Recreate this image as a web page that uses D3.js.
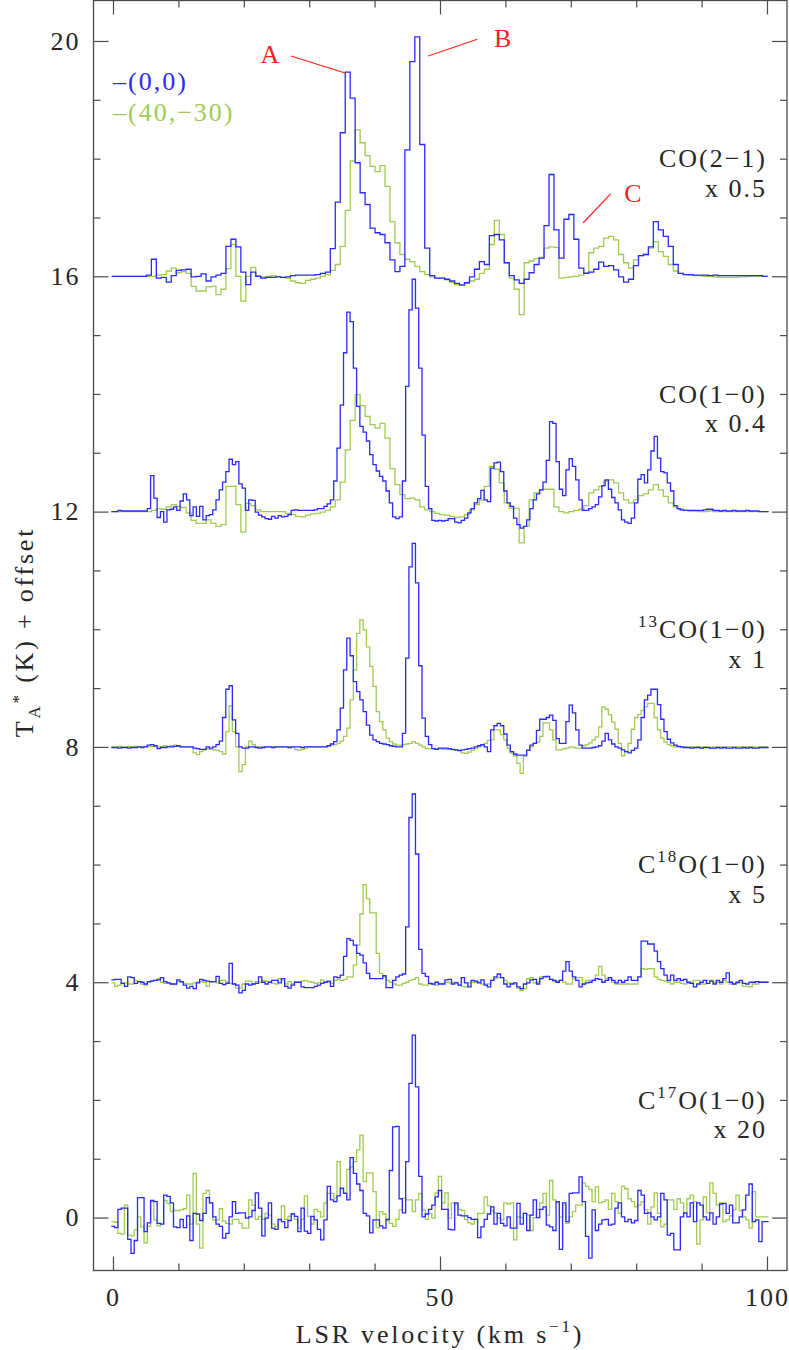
<!DOCTYPE html>
<html>
<head>
<meta charset="utf-8">
<script src="https://cdn.jsdelivr.net/npm/d3@7"></script>
<style>
  body { margin: 0; background: #fff; }
  svg text { font-family: "Liberation Serif", "DejaVu Serif", serif; }
</style>
</head>
<body>
<div id="chart"></div>
<script>
// channel grids (km/s): centre of first channel and channel width
var fineStart = 0, fineStep = 0.5;          // CO(1-0) (0,0), 13CO, C18O, C17O
var coarseStart = 0.17, coarseStep = 0.76;  // CO(2-1), CO(1-0) (40,-30)

// vertical offsets of the five lines, top to bottom
var offsets = [16, 12, 8, 4, 0];
var scaleFactors = ["0.5", "0.4", "1", "5", "20"];
var positions = ["(0,0)", "(40,\u221230)"];

// tick values
var xMajor = [0, 50, 100];
var xMinor = [10, 20, 30, 40, 60, 70, 80, 90];
var yMajor = [0, 4, 8, 12, 16, 20];
var yMinor = [1, 2, 3, 5, 6, 7, 9, 10, 11, 13, 14, 15, 17, 18, 19];

// ---- spectra, T (scaled) relative to offset ----
// CO(2-1)
var co21_00 = [
  0,0,0,0,0,0,0,0.02,0.29,-0.03,
  -0.02,-0.10,0.01,0.10,0.11,0.12,-0.01,0,0.04,-0.08,
  -0.01,0.02,0.05,0.51,0.63,0.50,0.07,-0.14,0.07,0,
  -0.03,-0.02,-0.02,-0.01,-0.02,-0.01,0.01,0.02,0.02,0.02,
  0.02,0.03,0.05,0.07,0.47,1.26,2.44,3.47,3.03,1.93,
  1.42,1.22,0.82,0.74,0.71,0.57,0.28,0.08,0.17,2.15,
  3.65,4.07,2.24,0.48,0.01,-0.03,
  -0.03,-0.05,-0.08,-0.12,-0.15,-0.11,-0.01,0.12,0.25,0.20,
  0.69,0.71,0.62,0.23,0.01,-0.06,-0.12,-0.05,0.06,0.20,
  0.31,0.86,1.73,0.79,0.31,0.97,1.05,0.63,0.14,0.05,
  0.07,0.12,0.24,0.17,0.18,0.11,-0.01,-0.10,-0.05,0.18,
  0.35,0.37,0.50,0.93,0.79,0.68,0.51,0.20,0.05,0.03,
  0.03,0.02,0.02,0.02,0.01,0.02,0.01,0.01,0.01,0.01,
  0.01,0.01,0.01,0.01,0.01,0
];
var co21_4030 = [
  0,0,0,0,0,0,0,0,0,0.02,
  0.03,0.09,0.14,0.06,0.08,0.05,-0.17,-0.25,-0.25,-0.18,
  -0.17,-0.31,-0.22,0.13,0.54,0.0,-0.42,0.0,0.15,0.01,
  -0.01,0,0.01,0,-0.02,-0.03,-0.08,-0.11,-0.12,-0.07,
  -0.05,-0.03,0,0.03,0.10,0.20,0.51,1.12,1.96,2.49,
  2.27,2.05,1.87,1.78,1.88,1.53,0.93,0.57,0.37,0.29,
  0.25,0.17,0.08,0.03,-0.01,-0.03,
  -0.03,-0.06,-0.10,-0.14,-0.14,-0.12,-0.08,-0.05,0.05,0.12,
  0.54,0.95,0.71,0.23,-0.03,-0.22,-0.65,0.23,0.26,0.30,
  0.32,0.48,0.50,0.49,-0.03,-0.02,-0.01,0,0.02,0.06,
  0.40,0.48,0.51,0.65,0.68,0.62,0.37,0.23,0.14,0.28,
  0.35,0.37,0.48,0.59,0.42,0.34,0.20,0.09,0.05,0.03,
  0.02,0.01,0.01,0,0,-0.01,-0.02,-0.02,-0.02,-0.02,
  -0.01,-0.01,0,0,0,0
];
// CO(1-0)
var co10_00 = [
  0,0,0.02,0.01,0.01,0.01,0.01,0.01,0.01,0.01,
  0.01,0.05,0.61,0.23,-0.10,0.0,-0.18,0.03,0.04,0.08,
  0.02,0.18,0.30,0.20,-0.07,0.08,-0.08,0.09,-0.14,-0.07,
  -0.05,0.03,0.20,0.37,0.50,0.68,0.89,0.80,0.85,0.47,
  0.40,0.02,0.20,0.19,-0.01,-0.06,-0.09,-0.12,-0.13,-0.08,
  -0.11,-0.07,-0.09,-0.08,-0.05,0.02,0.03,0.02,0.02,0.02,
  0.02,0.02,0.03,0.05,0.05,0.09,0.13,0.20,0.52,1.08,
  1.81,2.70,3.39,3.23,2.44,1.79,1.45,1.35,1.20,0.97,
  0.80,0.69,0.60,0.52,0.35,0.15,-0.09,-0.12,-0.09,0.52,
  2.13,3.43,3.95,3.46,2.44,1.30,0.43,0.05,-0.15,-0.16,
  -0.15,-0.16,-0.15,-0.12,-0.12,-0.18,-0.19,-0.15,-0.11,-0.02,
  0.05,0.15,0.22,0.36,0.20,0.17,0.74,0.83,0.84,0.68,
  0.35,0.15,0.09,-0.11,-0.22,-0.28,-0.25,-0.14,0.05,0.20,
  0.30,0.37,0.50,0.87,1.53,1.50,0.85,0.38,0.27,0.71,
  0.90,0.77,0.54,0.20,0.02,0.02,0.05,0.08,0.12,0.25,
  0.44,0.54,0.38,0.24,0.15,0.03,-0.14,-0.18,-0.20,-0.11,
  0.15,0.55,0.63,0.49,0.71,1.03,1.28,0.91,0.68,0.66,
  0.49,0.35,0.10,0.05,0.03,0.02,0.02,0.02,0.02,0.02,
  0.02,0.03,0.04,0.04,0.02,0.02,0.01,0.02,0.01,0.01,
  0.02,0.01,0.01,0.01,0.02,0.01,0.01,0.01,0,0,0
];
var co10_4030 = [
  0,0,0,0,0,0,0,0,0.02,0.05,
  0.04,0.08,0.12,0.09,0.07,-0.02,-0.15,-0.20,-0.20,-0.14,
  -0.20,-0.25,-0.22,0.43,0.43,0.12,-0.35,0.14,0.10,0.03,
  0,0,0,0,0,-0.03,-0.05,-0.08,-0.09,-0.06,
  -0.04,-0.03,-0.01,0.02,0.08,0.20,0.50,1.05,1.55,1.99,
  1.80,1.62,1.48,1.42,1.50,1.25,0.73,0.46,0.29,0.22,
  0.23,0.20,0.08,0.03,0,-0.03,
  -0.05,-0.06,-0.08,-0.10,-0.09,-0.05,0.03,0.12,0.20,0.43,
  0.77,0.72,0.49,0.15,0.06,0.06,-0.53,-0.25,0.20,0.32,
  0.37,0.38,0.38,0.08,0,-0.02,0,0.02,0.04,0.10,
  0.32,0.37,0.43,0.52,0.54,0.49,0.32,0.20,0.15,0.20,
  0.27,0.30,0.37,0.46,0.37,0.26,0.15,0.08,0.04,0.02,
  0.01,0.01,0,0,0.01,0,0,0,0,0,
  0,0,0,0,0,0
];
// 13CO(1-0)
var co13_00 = [
  -0.01,-0.01,-0.02,-0.01,-0.01,-0.02,-0.01,-0.01,0,-0.01,
  0,0.03,0.04,0.02,-0.03,-0.01,-0.01,0,0,0.01,
  0.02,0,0,0,0,-0.02,-0.03,-0.04,-0.04,0,
  -0.02,0,0.04,0.10,0.50,0.98,1.04,0.46,0.23,0,
  -0.02,-0.02,0,0,-0.01,-0.02,-0.01,0,0,-0.01,
  0,0,0,0,-0.01,0,0,0,-0.01,0,
  0,0,0,0,0,0,0.02,0.05,0.09,0.29,
  0.66,1.31,1.85,1.55,1.11,0.94,0.80,0.60,0.37,0.20,
  0.12,0.09,0.06,0.05,0.04,0.02,0.01,0,0,0.23,
  1.51,3.06,3.46,2.79,1.38,0.49,0.18,0.04,-0.03,-0.04,
  -0.02,-0.02,-0.02,-0.03,-0.04,-0.05,-0.06,-0.05,-0.04,-0.03,
  -0.02,0,0.02,0.04,0,-0.08,0.29,0.36,0.40,0.36,
  0.22,0.03,-0.08,-0.12,-0.14,-0.14,-0.14,-0.06,0.03,0.06,
  0.28,0.47,0.47,0.50,0.54,0.45,0.14,0.06,0.06,0.43,
  0.71,0.58,0.29,0.03,-0.02,-0.02,-0.02,-0.01,0,0.02,
  0.10,0.23,0.12,0.05,0,-0.02,-0.05,-0.08,-0.10,-0.06,
  -0.02,0.12,0.50,0.80,0.88,0.98,0.98,0.72,0.47,0.26,
  0.13,0.07,0.03,0.01,0,-0.01,-0.01,-0.02,-0.01,-0.01,
  -0.02,-0.01,-0.01,-0.02,-0.02,-0.01,-0.02,-0.01,-0.02,-0.02,
  -0.01,-0.02,-0.02,-0.01,-0.02,-0.01,-0.02,-0.02,-0.01,-0.01,-0.01
];
var co13_4030 = [
  0,0,0.01,0,0,0.01,0,0.01,0,0.01,
  0.01,0,0.01,0.01,0,0.01,0.02,0.01,0.02,0.03,
  0.01,0,0,0,0,-0.10,-0.13,-0.08,-0.05,-0.03,
  -0.04,-0.05,-0.06,-0.08,-0.12,0.26,0.70,0.26,0,-0.42,
  -0.30,0,0.10,0.04,0,0,0,0,0,0,
  0,0,0,0,0,0,-0.04,-0.06,-0.04,-0.02,
  0,0,0,0,0,0,0.02,0.03,0.04,0.06,
  0.10,0.18,0.32,0.80,1.31,1.93,2.16,1.99,1.70,1.37,
  1.03,0.60,0.43,0.29,0.15,0.09,0.05,0.03,0.03,0.04,
  0.05,0.06,0.09,0.06,0.03,0,-0.03,-0.03,-0.03,-0.03,
  -0.03,-0.04,-0.04,-0.04,-0.05,-0.06,-0.07,-0.10,-0.11,-0.09,
  -0.06,-0.03,0,0.03,0.06,0.11,0.12,0.29,0.29,0.21,
  0.12,-0.02,-0.10,-0.15,-0.28,-0.45,-0.16,-0.05,0,0.06,
  0.08,0.18,0.41,0.41,0.29,0.12,-0.05,-0.05,-0.03,-0.02,
  0,-0.01,-0.02,-0.02,0.02,0.04,0.07,0.12,0.17,0.34,
  0.68,0.64,0.55,0.42,0.30,0.06,-0.15,-0.08,0.06,0.30,
  0.50,0.55,0.62,0.68,0.74,0.74,0.50,0.29,0.15,0.08,
  0.04,0.02,0,0,-0.01,0,-0.01,0,-0.01,0,
  -0.01,0,-0.01,-0.01,0,-0.01,0,-0.01,0,0,
  -0.01,0,0,-0.01,0,0,0,-0.01,0,0,0
];
// C18O(1-0)
var c18o_00 = [
  0.04,0.05,0.05,-0.02,-0.07,0.09,0.08,-0.02,0.01,0,
  -0.03,0.01,0.02,0.03,0.04,0.08,0.01,-0.01,-0.03,-0.03,
  0.04,0.01,-0.05,-0.10,-0.07,-0.11,-0.01,0.05,0.03,0.02,
  0.01,0.01,0.10,-0.02,-0.04,-0.02,0.32,-0.03,-0.05,-0.18,
  -0.14,-0.03,-0.05,-0.03,-0.02,0.09,0,-0.03,0,0.03,
  0.03,-0.01,0.06,-0.07,-0.10,-0.05,0,0,-0.08,-0.09,
  -0.09,-0.09,-0.07,-0.05,-0.02,0,0.02,-0.07,0.09,0.08,
  0.12,0.44,0.74,0.71,0.63,0.49,0.46,0.33,0.15,0.06,
  0.06,0.06,0.06,0.11,-0.09,-0.09,0.03,0.09,0.12,0.14,
  0.94,2.80,3.20,2.18,0.56,0.15,0.10,-0.02,-0.03,0,
  -0.03,-0.03,0.04,0.05,-0.03,-0.01,-0.05,0.08,-0.01,-0.08,
  0.03,0.02,-0.01,0.04,-0.05,-0.08,0.03,0.09,0.14,0.08,
  -0.03,-0.08,-0.03,-0.01,-0.08,-0.11,-0.03,-0.01,0.04,0.05,
  -0.03,0.06,0.09,0.10,0.05,0.03,0,0.03,0.19,0.35,
  0.19,0.09,0.03,-0.08,-0.03,-0.01,0,0.03,0.06,0.05,
  0,0.03,0.08,0.03,-0.01,0.03,0,0.03,0.09,0.03,
  0.03,0.09,0.70,0.70,0.65,0.65,0.53,0.35,0.23,0.12,
  0.03,0.12,0.03,0.06,0.03,0.05,0,-0.02,-0.08,-0.03,
  0,0.03,-0.02,0.02,-0.03,0.03,0,0.06,0.16,0,
  -0.03,0,0.03,-0.02,-0.03,0,0,0.01,0,0,0
];
var c18o_4030 = [
  -0.01,-0.07,-0.05,-0.02,-0.01,-0.03,-0.03,0.03,0.01,-0.03,
  -0.05,0,0.03,0.03,0.06,0,-0.02,-0.02,-0.03,-0.04,
  0.01,0,-0.02,-0.03,-0.03,-0.01,0,0.01,0,-0.07,
  0,0.01,-0.01,0.03,0.03,0,-0.02,-0.03,-0.10,-0.10,
  -0.03,0.02,0.02,-0.03,0.01,0,0.03,0.02,0,-0.02,
  -0.03,0.06,0.03,-0.03,0.01,-0.03,0,0,0.02,0.03,
  0.01,0,-0.02,-0.01,0.04,0,0,-0.02,0.03,0.05,
  0.03,0.05,0.09,0.09,0.29,0.63,1.16,1.66,1.42,1.18,
  1.18,0.49,0.15,0.09,0.03,0,-0.03,-0.05,-0.05,-0.02,
  0,0.03,0.05,0.08,-0.03,-0.05,-0.05,-0.03,-0.04,-0.05,
  -0.02,-0.02,0,-0.01,0,0,-0.04,-0.07,-0.08,-0.01,
  0,0,0,-0.03,-0.03,-0.03,0.03,0.06,0.08,0.08,
  0.03,-0.01,-0.02,-0.03,-0.10,-0.14,-0.11,0.06,0.08,-0.01,
  0,0.09,0.10,0.09,0.05,0.01,0.02,0.03,0,-0.03,
  -0.03,0.06,0.08,0.08,-0.03,0.03,0.03,0.03,0.12,0.27,
  0.12,0.06,0.05,0,-0.03,-0.03,-0.03,-0.03,-0.03,-0.03,
  -0.03,0.09,0.23,0.22,0.23,0.23,0.09,0.05,0.03,0.02,
  0,-0.03,0,0,-0.02,-0.03,-0.02,0,0.03,0.03,
  -0.03,-0.03,0.03,0.03,0,0,-0.03,0.03,0,-0.03,
  -0.03,-0.02,0,-0.07,-0.07,-0.08,-0.03,-0.03,0,0,0
];
// C17O(1-0)
var c17o_00 = [
  -0.15,-0.17,0.14,0.16,0.16,-0.37,-0.61,-0.39,0.34,0.34,
  -0.24,-0.09,0.29,0.27,-0.10,-0.11,0.38,0.36,0.25,-0.16,
  -0.17,-0.03,-0.17,0.03,-0.39,0.07,0.06,-0.05,0.07,0.34,
  0.25,0.01,-0.11,-0.15,-0.35,-0.27,0.01,0.27,0.07,0.08,
  0.08,-0.01,0.01,0.12,0.42,0.16,-0.31,-0.01,0.25,-0.18,
  -0.20,-0.03,-0.07,-0.17,-0.05,0.06,0.02,-0.24,0.16,-0.23,
  -0.27,0.02,-0.04,-0.20,-0.38,-0.04,0.53,0.30,0.27,0.37,
  0.50,0.41,0.30,1.02,0.75,0.57,0.46,0.07,0.03,-0.26,
  -0.04,-0.04,-0.14,-0.18,-0.03,0.80,1.54,1.55,0.32,0.08,
  0.95,2.28,3.10,2.22,0.70,0.01,0.06,0.14,0.21,0.35,
  0.46,0.14,0.14,-0.20,-0.21,0.25,0.04,0.03,0.03,0,
  -0.03,-0.03,-0.34,-0.16,-0.03,0.06,0.18,-0.11,0.07,-0.10,
  -0.14,0.01,-0.18,-0.18,0.24,-0.11,0.07,-0.22,0.04,0.30,
  0,0.14,0.18,-0.13,-0.16,-0.22,0.27,-0.54,0.25,-0.07,
  0.41,0.42,0.42,0.69,0.27,-0.32,-0.69,0.13,-0.22,-0.11,
  -0.04,-0.03,-0.13,-0.11,0.16,0.25,0.01,-0.07,-0.03,-0.09,
  -0.05,0.46,0.38,0.07,0.08,0.01,-0.04,0.01,0.41,0.30,
  -0.30,-0.27,-0.55,-0.55,0.01,0.08,0.01,0.25,-0.07,0.25,
  0.21,0.01,-0.04,0.08,-0.11,0.01,0.23,0.24,0.07,0.21,
  -0.09,-0.09,0.01,0.13,0.38,0.57,-0.07,-0.04,-0.41,-0.07,-0.07
];
var c17o_4030 = [
  -0.07,-0.08,-0.27,-0.28,0.21,-0.30,-0.31,-0.21,0.01,-0.16,
  -0.43,-0.15,0.27,-0.04,-0.14,-0.11,0.29,0.24,0.10,0.12,
  0.12,0.13,0.15,0.38,-0.11,0.75,-0.11,-0.52,0.41,0.46,
  0.25,-0.04,-0.04,0.15,-0.06,-0.10,-0.11,-0.03,-0.03,-0.10,
  -0.18,-0.18,0.30,0.21,-0.03,0.02,-0.03,0.07,0.04,-0.11,
  -0.15,-0.04,0.20,-0.03,0.02,0.07,-0.03,-0.18,-0.03,0.37,
  0.02,-0.11,0.14,0.10,0.01,0.25,0.41,0.41,0.33,0.95,
  0.49,0.42,0.82,0.86,0.95,1.15,1.40,0.61,0.76,0.76,
  0.44,-0.17,0.10,0.06,-0.05,-0.10,-0.15,-0.03,0.13,0.33,
  0.30,0.30,0.10,0.30,0.41,0.13,-0.03,0.07,-0.01,0.42,
  0.70,0.25,0.42,-0.01,0.25,0.23,0.14,0.12,-0.03,-0.09,
  -0.11,-0.03,0.07,0.07,0.35,0.20,0.12,0.08,-0.01,-0.04,
  0.25,0.23,0.25,-0.38,0.01,0,0.07,0.04,-0.22,0,
  0.14,0.25,0.41,0.04,0.63,0.30,0.25,0.01,0.21,-0.10,
  0.01,0.10,0.21,0.21,0.59,0.53,0.48,0.27,0.52,0.25,
  0.27,0.30,0.14,0.41,0.27,0.07,0.53,0.49,0.32,0.27,
  0.18,0.21,0.27,0.13,-0.11,0.18,0.42,0.07,-0.16,-0.11,
  0.30,0.30,0.14,0.32,0.25,0.07,0.32,0.38,0.27,-0.45,
  -0.04,0.35,0.08,0.59,0.41,0.21,0.25,-0.07,-0.04,0.03,
  0.13,0.38,0.12,0.01,-0.04,-0.18,0.44,0.01,0.01,0.01,0.01
];

// annotation marks A, B, C (velocity, T + offset)
var annotLabels = ["A", "B", "C"];
var annotText = [[24.0, 19.63], [59.6, 19.90], [79.5, 17.26]];
var annotLine = [[[27.2, 19.745], [35.5, 19.456]], [[48.2, 19.745], [55.7, 20.03]], [[71.9, 16.91], [76.1, 17.40]]];

var blue = "#2a2aff", green = "#a0cc52", red = "#ff2020", axisColor = "#4a4a4a", textColor = "#262626";

// set the dimensions and margins of the graph
var margin = {top: 0.5, right: 2, bottom: 79.5, left: 93.5};
var width = 789 - margin.left - margin.right;
var height = 1350 - margin.top - margin.bottom;

var svg = d3.select("#chart").append("svg")
    .attr("width", 789)
    .attr("height", 1350)
  .append("g")
    .attr("transform", "translate(" + margin.left + "," + margin.top + ")");

var xScale = d3.scaleLinear().domain([-2.98, 103.06]).range([0, width]);
var yScale = d3.scaleLinear().domain([-0.9, 20.688]).range([height, 0]);

svg.append("clipPath").attr("id", "plotclip")
  .append("rect").attr("width", width).attr("height", height);

// spectra list, green drawn first so blue sits on top
var spectra = [
  {vals: co21_4030, start: coarseStart, step: coarseStep, offset: offsets[0], color: green},
  {vals: co21_00,   start: coarseStart, step: coarseStep, offset: offsets[0], color: blue},
  {vals: co10_4030, start: coarseStart, step: coarseStep, offset: offsets[1], color: green},
  {vals: co10_00,   start: fineStart,   step: fineStep,   offset: offsets[1], color: blue},
  {vals: co13_4030, start: fineStart,   step: fineStep,   offset: offsets[2], color: green},
  {vals: co13_00,   start: fineStart,   step: fineStep,   offset: offsets[2], color: blue},
  {vals: c18o_4030, start: fineStart,   step: fineStep,   offset: offsets[3], color: green},
  {vals: c18o_00,   start: fineStart,   step: fineStep,   offset: offsets[3], color: blue},
  {vals: c17o_4030, start: fineStart,   step: fineStep,   offset: offsets[4], color: green},
  {vals: c17o_00,   start: fineStart,   step: fineStep,   offset: offsets[4], color: blue}
];

// histogram-style points: left edge of every channel plus the last right edge
function stepPoints(s) {
  var pts = s.vals.map(function(t, i) {
    return {v: s.start + s.step * i - s.step / 2, t: t + s.offset};
  });
  var n = s.vals.length;
  pts.push({v: s.start + s.step * (n - 1) + s.step / 2, t: s.vals[n - 1] + s.offset});
  return pts;
}

var line = d3.line()
  .x(function(d) { return xScale(d.v); })
  .y(function(d) { return yScale(d.t); })
  .curve(d3.curveStepAfter);

var plot = svg.append("g").attr("clip-path", "url(#plotclip)");

spectra.forEach(function(s) {
  plot.append("path")
    .datum(stepPoints(s))
    .attr("fill", "none")
    .attr("stroke", s.color)
    .attr("stroke-width", 1.3)
    .attr("d", line);
});

// axes: ticks inside on all four sides
function styleAxis(g) {
  g.select(".domain").remove();
  g.selectAll(".tick line").attr("stroke", axisColor).attr("stroke-width", 1.2);
  g.selectAll(".tick text")
    .attr("fill", textColor)
    .attr("font-family", "Liberation Serif, DejaVu Serif, serif")
    .attr("font-size", 26)
    .style("letter-spacing", "2px");
}

svg.append("g").attr("transform", "translate(0," + height + ")")
  .call(d3.axisBottom(xScale).tickValues(xMajor).tickSize(-14).tickPadding(17))
  .call(styleAxis);
svg.append("g").attr("transform", "translate(0," + height + ")")
  .call(d3.axisBottom(xScale).tickValues(xMinor).tickSize(-7).tickFormat(""))
  .call(styleAxis);
svg.append("g")
  .call(d3.axisTop(xScale).tickValues(xMajor).tickSize(-14).tickFormat(""))
  .call(styleAxis);
svg.append("g")
  .call(d3.axisTop(xScale).tickValues(xMinor).tickSize(-7).tickFormat(""))
  .call(styleAxis);

svg.append("g")
  .call(d3.axisLeft(yScale).tickValues(yMajor).tickSize(-15).tickPadding(13))
  .call(styleAxis);
svg.append("g")
  .call(d3.axisLeft(yScale).tickValues(yMinor).tickSize(-7).tickFormat(""))
  .call(styleAxis);
svg.append("g").attr("transform", "translate(" + width + ",0)")
  .call(d3.axisRight(yScale).tickValues(yMajor).tickSize(-15).tickFormat(""))
  .call(styleAxis);
svg.append("g").attr("transform", "translate(" + width + ",0)")
  .call(d3.axisRight(yScale).tickValues(yMinor).tickSize(-7).tickFormat(""))
  .call(styleAxis);

svg.append("rect")
  .attr("width", width)
  .attr("height", height)
  .attr("fill", "none")
  .attr("stroke", axisColor)
  .attr("stroke-width", 1.3);

// axis titles
var xTitle = svg.append("text")
  .attr("x", xScale(50))
  .attr("y", height + 72)
  .attr("text-anchor", "middle")
  .attr("fill", textColor)
  .attr("font-size", 26)
  .style("letter-spacing", "2.8px");
xTitle.append("tspan").text("LSR velocity (km s");
xTitle.append("tspan").attr("dy", -11).attr("font-size", 17).text("\u22121");
xTitle.append("tspan").attr("dy", 11).text(")");

var yTitle = svg.append("text")
  .attr("transform", "translate(" + (33 - margin.left) + "," + (632 - margin.top) + ") rotate(-90)")
  .attr("text-anchor", "middle")
  .attr("fill", textColor)
  .attr("font-size", 26)
  .style("letter-spacing", "2.8px");
yTitle.append("tspan").text("T");
yTitle.append("tspan").attr("dy", 7).attr("font-size", 17).text("A");
yTitle.append("tspan").attr("dy", -16).attr("font-size", 17).text("*");
yTitle.append("tspan").attr("dy", 9).text(" (K) + offset");

// line labels at the right
var lineNames = [
  [{t: "CO(2\u22121)"}],
  [{t: "CO(1\u22120)"}],
  [{t: "13", sup: true}, {t: "CO(1\u22120)"}],
  [{t: "C"}, {t: "18", sup: true}, {t: "O(1\u22120)"}],
  [{t: "C"}, {t: "17", sup: true}, {t: "O(1\u22120)"}]
];

lineNames.forEach(function(parts, i) {
  var label = svg.append("text")
    .attr("x", xScale(100))
    .attr("y", yScale(offsets[i] + 1.85))
    .attr("text-anchor", "end")
    .attr("fill", textColor)
    .attr("font-size", 26)
    .style("letter-spacing", "2px");
  var shifted = false;
  parts.forEach(function(p) {
    var ts = label.append("tspan").text(p.t);
    if (p.sup) { ts.attr("dy", -11).attr("font-size", 17); shifted = true; }
    else if (shifted) { ts.attr("dy", 11); shifted = false; }
  });
  svg.append("text")
    .attr("x", xScale(100))
    .attr("y", yScale(offsets[i] + 1.35))
    .attr("text-anchor", "end")
    .attr("fill", textColor)
    .attr("font-size", 26)
    .style("letter-spacing", "2px")
    .text("x " + scaleFactors[i]);
});

// legend
var legendColors = [blue, green];
positions.forEach(function(p, i) {
  svg.append("text")
    .attr("x", xScale(0))
    .attr("y", 90 - margin.top + i * 31)
    .attr("fill", legendColors[i])
    .attr("font-size", 26)
    .style("letter-spacing", "2px")
    .text("\u2013" + p);
});

// A, B, C annotations
annotLabels.forEach(function(lbl, i) {
  svg.append("line")
    .attr("x1", xScale(annotLine[i][0][0]))
    .attr("y1", yScale(annotLine[i][0][1]))
    .attr("x2", xScale(annotLine[i][1][0]))
    .attr("y2", yScale(annotLine[i][1][1]))
    .attr("stroke", red)
    .attr("stroke-width", 1.2);
  svg.append("text")
    .attr("x", xScale(annotText[i][0]))
    .attr("y", yScale(annotText[i][1]))
    .attr("text-anchor", "middle")
    .attr("fill", red)
    .attr("font-size", 26)
    .text(lbl);
});
</script>
</body>
</html>
